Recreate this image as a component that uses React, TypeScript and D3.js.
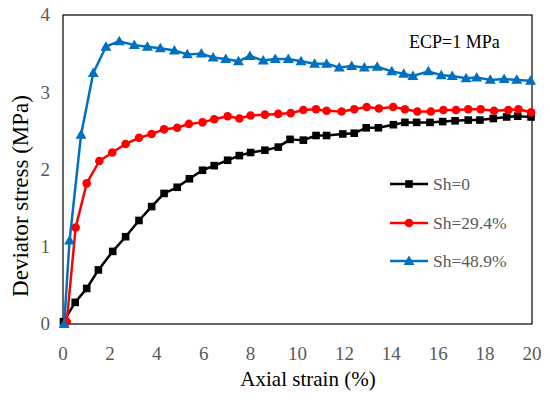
import React from 'react';
import * as d3 from 'd3';

// Sh=0
const strain0 = [0.02, 0.52, 1.01, 1.51, 2.12, 2.67, 3.24, 3.78, 4.31, 4.87, 5.39, 5.95, 6.45, 7.02, 7.52, 8.0, 8.61, 9.18, 9.68, 10.25, 10.79, 11.24, 11.93, 12.42, 12.93, 13.45, 14.09, 14.58, 15.08, 15.65, 16.19, 16.72, 17.28, 17.78, 18.35, 18.92, 19.39, 19.96];
const stress0 = [0.03, 0.28, 0.46, 0.70, 0.94, 1.13, 1.34, 1.52, 1.69, 1.77, 1.88, 1.99, 2.05, 2.12, 2.18, 2.22, 2.25, 2.29, 2.39, 2.38, 2.44, 2.44, 2.46, 2.47, 2.54, 2.54, 2.58, 2.61, 2.61, 2.61, 2.62, 2.63, 2.64, 2.64, 2.66, 2.68, 2.69, 2.68];

// Sh=29.4%
const strain29 = [0.16, 0.54, 1.01, 1.55, 2.1, 2.67, 3.24, 3.78, 4.31, 4.87, 5.37, 5.95, 6.45, 7.02, 7.52, 8.0, 8.61, 9.18, 9.71, 10.25, 10.79, 11.24, 11.88, 12.42, 12.95, 13.47, 14.08, 14.58, 15.11, 15.69, 16.22, 16.76, 17.28, 17.81, 18.38, 18.99, 19.42, 19.96];
const stress29 = [0.03, 1.25, 1.82, 2.11, 2.22, 2.33, 2.41, 2.46, 2.52, 2.54, 2.59, 2.61, 2.65, 2.69, 2.66, 2.70, 2.71, 2.72, 2.73, 2.77, 2.78, 2.76, 2.75, 2.78, 2.81, 2.79, 2.81, 2.78, 2.75, 2.75, 2.77, 2.77, 2.78, 2.78, 2.76, 2.77, 2.78, 2.74];

// Sh=48.9%
const strain48 = [0.05, 0.28, 0.77, 1.29, 1.83, 2.4, 3.04, 3.6, 4.15, 4.75, 5.3, 5.9, 6.4, 6.94, 7.48, 7.97, 8.54, 9.05, 9.61, 10.15, 10.73, 11.24, 11.78, 12.31, 12.85, 13.4, 14.02, 14.53, 14.92, 15.58, 16.13, 16.6, 17.19, 17.64, 18.22, 18.81, 19.35, 19.94];
const stress48 = [0.0, 1.08, 2.45, 3.25, 3.59, 3.66, 3.61, 3.59, 3.57, 3.54, 3.49, 3.50, 3.45, 3.43, 3.40, 3.47, 3.41, 3.43, 3.43, 3.40, 3.37, 3.37, 3.32, 3.34, 3.32, 3.33, 3.27, 3.24, 3.21, 3.27, 3.22, 3.21, 3.18, 3.19, 3.16, 3.17, 3.16, 3.15];

const xTicks = [0, 2, 4, 6, 8, 10, 12, 14, 16, 18, 20];
const yTicks = [0, 1, 2, 3, 4];
const seriesNames = ['Sh=0', 'Sh=29.4%', 'Sh=48.9%'];
const seriesColors = ['#000000', '#ff0000', '#0070c0'];

const W = 550;
const H = 402;
const m = { left: 63, right: 18, top: 15, bottom: 78 };
const font = 'Liberation Serif, serif';

type Pt = [number, number];

const Marker: React.FC<{ kind: number; x: number; y: number; color: string }> = ({ kind, x, y, color }) => {
  if (kind === 0) return <rect x={x - 3.8} y={y - 3.8} width={7.6} height={7.6} fill={color} />;
  if (kind === 1) return <circle cx={x} cy={y} r={4.3} fill={color} />;
  const s = d3.symbol(d3.symbolTriangle, 52)();
  return <path d={s || ''} transform={`translate(${x},${y + 0.8})`} fill={color} />;
};

export default function App() {
  const x = d3.scaleLinear().domain([0, 20]).range([m.left, W - m.right]);
  const y = d3.scaleLinear().domain([0, 4]).range([H - m.bottom, m.top]);

  const series: Pt[][] = [
    strain0.map((v, i) => [v, stress0[i]] as Pt),
    strain29.map((v, i) => [v, stress29[i]] as Pt),
    strain48.map((v, i) => [v, stress48[i]] as Pt),
  ];

  const line = d3.line<Pt>().x(d => x(d[0])).y(d => y(d[1]));

  const legendX = 390;
  const legendY = [184, 223, 261];

  return (
    <svg width={W} height={H} style={{ position: 'absolute', left: 0, top: 0, background: '#fff' }}>
      <rect x={0} y={0} width={W} height={H} fill="#fff" />
      <rect x={x(0)} y={y(4)} width={x(20) - x(0)} height={y(0) - y(4)} fill="none" stroke="#000" strokeWidth={1.2} />

      {series.map((pts, k) => (
        <g key={k}>
          <path d={line(pts) || ''} fill="none" stroke={seriesColors[k]} strokeWidth={2.5} strokeLinejoin="round" />
          {pts.map((p, i) => (
            <Marker key={i} kind={k} x={x(p[0])} y={y(p[1])} color={seriesColors[k]} />
          ))}
        </g>
      ))}

      {xTicks.map(t => (
        <text key={t} x={x(t)} y={360} textAnchor="middle" fontFamily={font} fontSize={19} fill="#595959">{t}</text>
      ))}
      {yTicks.map(t => (
        <text key={t} x={50} y={y(t)} dy="0.34em" textAnchor="end" fontFamily={font} fontSize={19} fill="#595959">{t}</text>
      ))}

      <text x={308} y={386} textAnchor="middle" fontFamily={font} fontSize={21} fill="#000">Axial strain (%)</text>
      <text transform="translate(28,196) rotate(-90)" textAnchor="middle" fontFamily={font} fontSize={23} fill="#000">Deviator stress (MPa)</text>

      <text x={409} y={48} fontFamily={font} fontSize={18} fill="#000">ECP=1 MPa</text>

      {seriesNames.map((name, k) => (
        <g key={name}>
          <line x1={legendX} x2={legendX + 38} y1={legendY[k]} y2={legendY[k]} stroke={seriesColors[k]} strokeWidth={2.5} />
          <Marker kind={k} x={legendX + 19} y={legendY[k]} color={seriesColors[k]} />
          <text x={legendX + 43} y={legendY[k]} dy="0.34em" fontFamily={font} fontSize={17.5} fill="#595959">{name}</text>
        </g>
      ))}
    </svg>
  );
}
